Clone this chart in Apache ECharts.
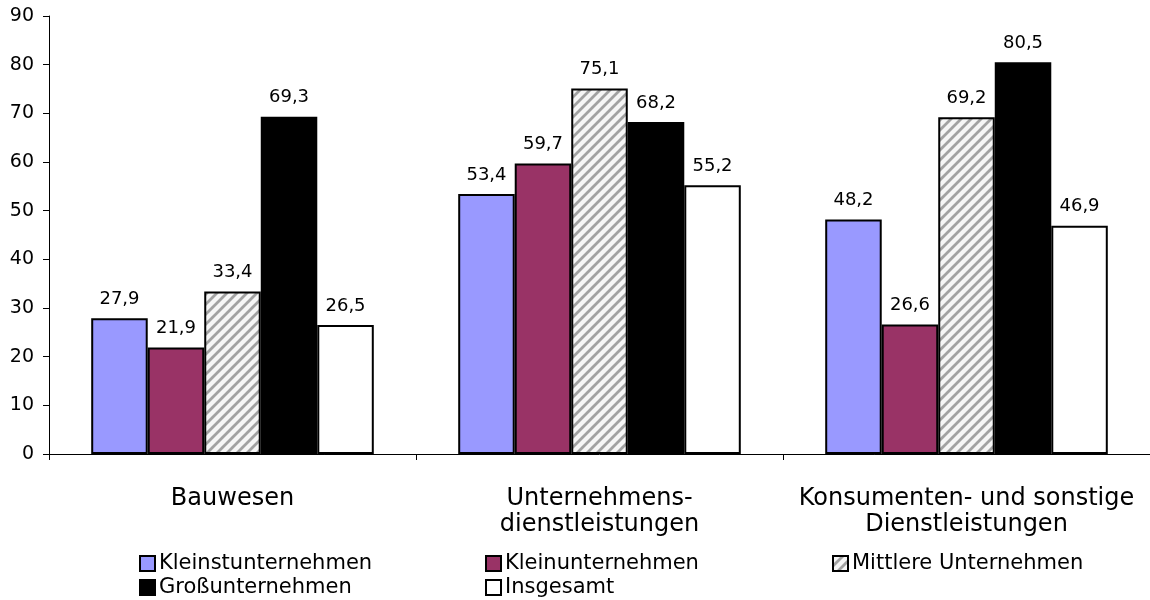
<!DOCTYPE html>
<html><head><meta charset="utf-8">
<script src="https://cdn.jsdelivr.net/npm/echarts@6/dist/echarts.min.js"></script>
<style>html,body{margin:0;padding:0;background:#fff}#c{width:1150px;height:600px}</style>
</head><body><div id="c"></div>
<script>
const categories = ['Bauwesen', 'Unternehmens-\ndienstleistungen', 'Konsumenten- und sonstige\nDienstleistungen'];
const seriesNames = ['Kleinstunternehmen', 'Kleinunternehmen', 'Mittlere Unternehmen', 'Großunternehmen', 'Insgesamt'];
const kleinst = [27.9, 53.4, 48.2];
const klein = [21.9, 59.7, 26.6];
const mittlere = [33.4, 75.1, 69.2];
const gross = [69.3, 68.2, 80.5];
const insgesamt = [26.5, 55.2, 46.9];
const yTicks = [0, 10, 20, 30, 40, 50, 60, 70, 80, 90];

function hatch() {
  const c = document.createElement('canvas');
  c.width = 10; c.height = 10;
  const g = c.getContext('2d');
  g.fillStyle = '#f6f6f6'; g.fillRect(0, 0, 10, 10);
  g.strokeStyle = '#a2a2a2'; g.lineWidth = 2.8;
  g.beginPath();
  g.moveTo(-5, 5); g.lineTo(5, -5);
  g.moveTo(0, 10); g.lineTo(10, 0);
  g.moveTo(5, 15); g.lineTo(15, 5);
  g.stroke();
  return { image: c, repeat: 'repeat' };
}
const pat = hatch();
const colors = ['#9999FF', '#993366', pat, '#000000', '#FFFFFF'];
const datasets = [kleinst, klein, mittlere, gross, insgesamt];
const FONT = 'DejaVu Sans';

const chart = echarts.init(document.getElementById('c'), null, { renderer: 'canvas' });
const legendBase = {
  orient: 'vertical', itemWidth: 15, itemHeight: 15, itemGap: 3, top: 553, padding: 0,
  textStyle: { fontFamily: FONT, fontSize: 21, color: '#000', lineHeight: 21, padding: [0, 0, 0, -1] },
  icon: 'rect', itemStyle: { borderColor: '#000', borderWidth: 2 }
};
chart.setOption({
  animation: false,
  backgroundColor: '#fff',
  grid: { left: 49, right: 0, top: 16, bottom: 146, containLabel: false },
  legend: [
    Object.assign({}, legendBase, { left: 139, data: [seriesNames[0], seriesNames[3]] }),
    Object.assign({}, legendBase, { left: 485, data: [seriesNames[1], seriesNames[4]] }),
    Object.assign({}, legendBase, { left: 832, data: [seriesNames[2]] })
  ],
  xAxis: {
    type: 'category', data: categories,
    axisLine: { lineStyle: { color: '#000', width: 1 } },
    axisTick: { show: true, length: 6, alignWithLabel: false, lineStyle: { color: '#000' } },
    axisLabel: { fontFamily: FONT, fontSize: 24, lineHeight: 26, color: '#000', margin: 32, interval: 0 }
  },
  yAxis: {
    type: 'value', min: 0, max: 90, interval: 10,
    axisLine: { show: true, lineStyle: { color: '#000', width: 1 } },
    axisTick: { show: true, length: 6, lineStyle: { color: '#000' } },
    splitLine: { show: false },
    axisLabel: { fontFamily: FONT, fontSize: 19, color: '#000', margin: 15,
      formatter: v => yTicks.includes(v) ? String(v) : '' }
  },
  series: datasets.map((d, i) => ({
    name: seriesNames[i], type: 'bar', data: d,
    barGap: '0%', barCategoryGap: '23%',
    itemStyle: { color: colors[i], borderColor: '#000', borderWidth: 2 },
    label: { show: true, position: 'top', distance: 10, fontFamily: FONT, fontSize: 18, color: '#000',
      formatter: p => p.value.toFixed(1).replace('.', ',') }
  }))
});
</script></body></html>
